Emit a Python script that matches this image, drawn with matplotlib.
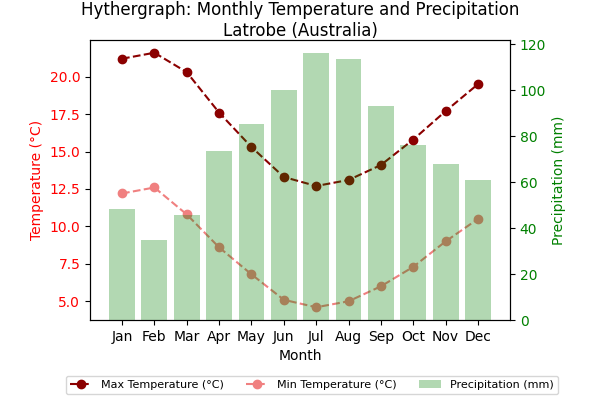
import matplotlib.pyplot as plt

months = ['Jan', 'Feb', 'Mar', 'Apr', 'May', 'Jun', 'Jul', 'Aug', 'Sep', 'Oct', 'Nov', 'Dec']
max_temp = [21.2, 21.6, 20.3, 17.6, 15.3, 13.3, 12.7, 13.1, 14.1, 15.8, 17.7, 19.5]
min_temp = [12.2, 12.6, 10.8, 8.6, 6.8, 5.1, 4.6, 5.0, 6.0, 7.3, 9.0, 10.5]
precip = [48.3, 34.8, 45.7, 73.5, 85.2, 100.0, 116.0, 113.5, 93.0, 76.0, 67.8, 60.9]

fig, ax1 = plt.subplots(figsize=(6, 4), dpi=100)
fig.subplots_adjust(left=0.15, right=0.85, top=0.9, bottom=0.2)

l1, = ax1.plot(months, max_temp, color='darkred', marker='o', linestyle='--', label='Max Temperature (°C)')
l2, = ax1.plot(months, min_temp, color='lightcoral', marker='o', linestyle='--', label='Min Temperature (°C)')
ax1.set_xlabel('Month')
ax1.set_ylabel('Temperature (°C)', color='red')
ax1.tick_params(axis='y', labelcolor='red')

ax2 = ax1.twinx()
b = ax2.bar(months, precip, color='green', alpha=0.3, label='Precipitation (mm)')
ax2.set_ylabel('Precipitation (mm)', color='green')
ax2.tick_params(axis='y', labelcolor='green')

plt.title('Hythergraph: Monthly Temperature and Precipitation\nLatrobe (Australia)', pad=3)
fig.legend([l1, l2, b], [l1.get_label(), l2.get_label(), b.get_label()],
           loc='lower center', ncol=3, fontsize=8, bbox_to_anchor=(0.52, 0.0))

plt.savefig('out.png')
